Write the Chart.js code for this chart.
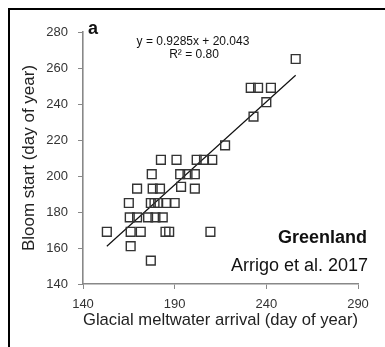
<!DOCTYPE html>
<html lang="en">
<head>
    <meta charset="UTF-8">
    <title>Bloom start vs glacial meltwater arrival</title>
    <script src="https://cdn.jsdelivr.net/npm/chart.js"></script>
    <style>
        body {
            margin: 0;
            background-color: #fff;
        }
        canvas {
            display: block;
        }
    </style>
</head>
<body>
    <canvas id="chart" width="385" height="347"></canvas>

    <script>
        // Glacial meltwater arrival (x) and bloom start (y), day of year
        const meltArrival = [153, 166, 171.5, 185, 187, 209.5,
            166, 177,
            165.5, 169.5, 175.5, 179.5, 183.5,
            165, 177, 179, 181, 185.5, 190,
            169.5, 178, 182, 193.5, 201,
            177.5, 193, 197, 201,
            182.5, 191, 202, 206, 210.5,
            217.5, 233, 240, 231.5, 235.5, 242.5, 256];
        const bloomStart = [169, 169, 169, 169, 169, 169,
            161, 153,
            177, 177, 177, 177, 177,
            185, 185, 185, 185, 185, 185,
            193, 193, 193, 194, 193,
            201, 201, 201, 201,
            209, 209, 209, 209, 209,
            217, 233, 241, 249, 249, 249, 265];

        // trend line ends
        const trendX = [153, 256];
        const trendY = [161, 256];

        const xTicks = [140, 190, 240, 290];
        const yTicks = [140, 160, 180, 200, 220, 240, 260, 280];

        const fitText = ["y = 0.9285x + 20.043", "R\u00B2 = 0.80"];
        const panelLabel = "a";
        const regionLabel = "Greenland";
        const sourceLabel = "Arrigo et al. 2017";

        const FONT = "'Liberation Sans', Arial, sans-serif";

        const points = meltArrival.map((x, i) => ({ x: x, y: bloomStart[i] }));
        const trend = trendX.map((x, i) => ({ x: x, y: trendY[i] }));

        const decorations = {
            id: 'decorations',
            afterDraw(chart) {
                const ctx = chart.ctx;
                const area = chart.chartArea;
                ctx.save();
                // frame (left and top only visible)
                ctx.strokeStyle = '#000';
                ctx.lineWidth = 2;
                ctx.beginPath();
                ctx.moveTo(9, 347);
                ctx.lineTo(9, 9);
                ctx.lineTo(385, 9);
                ctx.stroke();

                ctx.fillStyle = '#111';
                ctx.textBaseline = 'middle';
                ctx.textAlign = 'left';
                ctx.font = "bold 18px " + FONT;
                ctx.fillText(panelLabel, area.left + 5, 29);

                ctx.textAlign = 'center';
                ctx.font = "12px " + FONT;
                ctx.fillText(fitText[0], 193, 42);
                ctx.fillText(fitText[1], 194, 55);

                ctx.textAlign = 'right';
                ctx.font = "bold 18px " + FONT;
                ctx.fillText(regionLabel, 367, 238);
                ctx.font = "18px " + FONT;
                ctx.fillText(sourceLabel, 368, 266);
                ctx.restore();
            }
        };

        new Chart(document.getElementById("chart").getContext("2d"), {
            type: 'scatter',
            data: {
                datasets: [
                    {
                        data: points,
                        pointStyle: 'rect',
                        pointRadius: 6.2,
                        pointHoverRadius: 6.2,
                        borderColor: '#333',
                        backgroundColor: 'rgba(0,0,0,0)',
                        pointBorderWidth: 1.4,
                    },
                    {
                        type: 'line',
                        data: trend,
                        borderColor: '#111',
                        borderWidth: 1.2,
                        pointRadius: 0,
                        fill: false,
                    },
                ],
            },
            options: {
                responsive: false,
                animation: false,
                layout: { padding: { top: 32, right: 27, left: 0, bottom: 0 } },
                plugins: {
                    legend: { display: false },
                    tooltip: { enabled: false },
                },
                scales: {
                    x: {
                        type: 'linear',
                        min: 140,
                        max: 290,
                        afterBuildTicks: s => { s.ticks = xTicks.map(v => ({ value: v })); },
                        afterFit: s => { s.height = 63; },
                        grid: { drawOnChartArea: false, drawTicks: true, tickLength: 5, color: '#888' },
                        border: { color: '#888', width: 1.6 },
                        ticks: { color: '#333', padding: 8, font: { family: FONT, size: 13 } },
                        title: {
                            display: true,
                            text: 'Glacial meltwater arrival (day of year)',
                            color: '#222',
                            padding: { top: 0, bottom: 16 },
                            font: { family: FONT, size: 17 },
                        },
                    },
                    y: {
                        type: 'linear',
                        min: 140,
                        max: 280,
                        afterBuildTicks: s => { s.ticks = yTicks.map(v => ({ value: v })); },
                        afterFit: s => { s.width = 83; },
                        grid: { drawOnChartArea: false, drawTicks: true, tickLength: 5, color: '#888' },
                        border: { color: '#888', width: 1.6 },
                        ticks: { color: '#333', padding: 10, font: { family: FONT, size: 13 } },
                        title: {
                            display: true,
                            text: 'Bloom start (day of year)',
                            color: '#222',
                            padding: { top: 19, bottom: 0 },
                            font: { family: FONT, size: 17 },
                        },
                    },
                },
            },
            plugins: [decorations],
        });
    </script>
</body>
</html>
